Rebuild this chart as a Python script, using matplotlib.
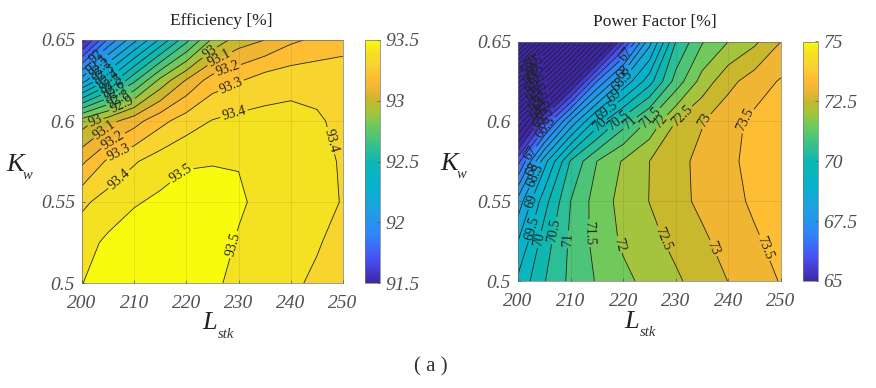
#!/usr/bin/env python3
import numpy as np
import matplotlib
matplotlib.use('Agg')
import matplotlib.pyplot as plt
from matplotlib.cm import ScalarMappable
from matplotlib.colors import LinearSegmentedColormap, Normalize

plt.rcParams['font.family'] = ['Liberation Serif', 'DejaVu Serif']

# values
lstk = [200, 205, 210, 215, 220, 225, 230, 235, 240, 245, 250]
kw = [0.5, 0.525, 0.55, 0.575, 0.6, 0.625, 0.65]

efficiency = [
    [93.498, 93.54, 93.54, 93.54, 93.53, 93.52, 93.47, 93.44, 93.42, 93.38, 93.33],
    [93.46, 93.52, 93.56, 93.57, 93.57, 93.55, 93.49, 93.46, 93.44, 93.41, 93.36],
    [93.38, 93.44, 93.49, 93.52, 93.54, 93.54, 93.515, 93.47, 93.45, 93.43, 93.395],
    [93.18, 93.32, 93.39, 93.45, 93.49, 93.495, 93.495, 93.46, 93.45, 93.43, 93.39],
    [92.95, 93.06, 93.16, 93.27, 93.35, 93.405, 93.43, 93.43, 93.43, 93.41, 93.38],
    [92.15, 92.42, 92.68, 92.93, 93.11, 93.25, 93.29, 93.35, 93.37, 93.375, 93.36],
    [91.55, 91.92, 92.17, 92.42, 92.67, 92.92, 93.05, 93.1, 93.18, 93.22, 93.26],
]
power_factor = [
    [69.6, 70.47, 71.12, 71.54, 71.87, 72.16, 72.42, 72.72, 73.01, 73.27, 73.53],
    [69.0, 70.25, 71.09, 71.67, 72.08, 72.35, 72.63, 72.91, 73.19, 73.44, 73.65],
    [68.2, 69.8, 71.0, 71.72, 72.17, 72.51, 72.84, 73.11, 73.35, 73.58, 73.7],
    [66.3, 68.8, 70.55, 71.5, 72.05, 72.5, 72.85, 73.13, 73.42, 73.62, 73.72],
    [63.6, 66.0, 68.1, 69.7, 70.75, 71.6, 72.5, 72.97, 73.33, 73.62, 73.75],
    [59.8, 62.3, 64.7, 67.0, 68.6, 69.8, 71.2, 72.2, 72.85, 73.25, 73.55],
    [55.5, 58.2, 60.8, 63.5, 65.9, 68.3, 70.5, 71.45, 72.0, 72.4, 73.0],
]

eff_levels = np.round(np.arange(91.5, 93.51, 0.1), 1)
pf_levels = np.arange(55, 74.1, 0.5)
eff_ticks = [91.5, 92, 92.5, 93, 93.5]
pf_ticks = [65, 67.5, 70, 72.5, 75]
lstk_ticks = [200, 210, 220, 230, 240, 250]
kw_ticks = [0.5, 0.55, 0.6, 0.65]

# where the contour labels sit
eff_labels = {
    93.5: [(219.4, .5656), (229.2, .5235)],
    93.4: [(206.7, .5656), (229, .6058), (247.8, .588)],
    93.3: [(206.9, .5815), (228.6, .6213)],
    93.2: [(205.9, .588), (228, .631)],
    93.1: [(204.6, .5935), (226.7, .6366)],
    93.0: [(202.7, .5975), (224.8, .641)],
    92.0: [(202.7, .64)],
    92.1: [(203.6, .6325)],
    92.2: [(204, .6305)],
    92.3: [(204.4, .6285)],
    92.4: [(204.8, .6265)],
    92.5: [(205.2, .6245)],
    92.6: [(205.6, .622)],
    92.7: [(206, .62)],
    92.8: [(206.5, .617)],
    92.9: [(207.2, .614)],
}
pf_labels = {
    73.5: [(242, .604), (247, .521)],
    73.0: [(235.3, .601), (237.4, .521)],
    72.5: [(231, .604), (228, .527)],
    72.0: [(226.7, .601), (218.5, .522)],
    71.5: [(224.5, .604), (213.4, .53)],
    71.0: [(221, .6), (209.5, .526)],
    70.5: [(219, .601), (206.3, .532)],
    70.0: [(215.8, .597), (204, .526)],
    69.5: [(216, .61), (202.8, .533)],
    69.0: [(218, .617), (202.3, .55)],
    68.5: [(219.5, .627), (203.4, .566)],
    68.0: [(220, .631), (202.6, .57)],
    67.0: [(220.5, .642), (202, .581)],
}
for i, v in enumerate(np.arange(59, 66.6, 0.5)):
    pf_labels[float(v)] = [(202.3 + 0.18 * i, .6385 - 0.00277 * i)]

parula = LinearSegmentedColormap.from_list('parula', [
    (0.00, (0.2422, 0.1504, 0.6603)),
    (0.10, (0.2810, 0.3228, 0.9579)),
    (0.20, (0.1786, 0.5289, 0.9682)),
    (0.30, (0.1150, 0.6300, 0.8800)),
    (0.40, (0.0200, 0.7000, 0.8000)),
    (0.50, (0.0500, 0.7200, 0.7000)),
    (0.60, (0.3000, 0.7700, 0.4700)),
    (0.65, (0.4400, 0.7900, 0.3600)),
    (0.70, (0.6400, 0.7700, 0.2400)),
    (0.75, (0.7800, 0.7200, 0.1800)),
    (0.80, (0.9400, 0.7100, 0.2000)),
    (0.85, (0.9950, 0.7450, 0.2000)),
    (0.90, (0.9750, 0.8300, 0.1800)),
    (0.95, (0.9550, 0.8800, 0.1400)),
    (1.00, (0.9763, 0.9831, 0.0538)),
])


def draw(pos, cpos, z, levels, vmin, vmax, cticks, labels, title, title_x):
    ax = fig.add_axes([pos[0] / W, 1 - pos[3] / H, (pos[2] - pos[0]) / W, (pos[3] - pos[1]) / H])
    norm = Normalize(vmin, vmax)
    # each band takes the colour of its lower level
    colors = [parula(norm(l)) for l in levels]
    ax.contourf(lstk, kw, z, levels=levels, colors=colors, extend='max', zorder=1)
    # one contour set per level so a label can only land on its own line
    for lev in levels:
        cs = ax.contour(lstk, kw, z, levels=[lev], colors='#222222', linewidths=0.6, zorder=2)
        if float(lev) in labels:
            ax.clabel(cs, manual=labels[float(lev)], fmt='%g', fontsize=10, inline=True, inline_spacing=2)
    ax.set_xlim(200, 250)
    ax.set_ylim(0.5, 0.65)
    ax.set_xticks(lstk_ticks)
    ax.set_yticks(kw_ticks)
    ax.set_yticklabels(['0.5', '0.55', '0.6', '0.65'])
    ax.grid(True, color='#333333', alpha=0.12, linewidth=0.6, zorder=3)
    ax.set_axisbelow(False)
    ax.tick_params(direction='in', length=2.5, width=0.5, color='#555555', labelcolor='#505050')
    ax.tick_params(axis='x', pad=9)
    ax.tick_params(axis='y', pad=5)
    for t in ax.get_xticklabels() + ax.get_yticklabels():
        t.set_fontsize(14)
        t.set_fontstyle('italic')
    for s in ax.spines.values():
        s.set_linewidth(0.5)
        s.set_color('#777777')
    fig.text(title_x / W, 1 - (pos[1] - 19) / H, title, fontsize=12.5, color='#222222', ha='center', va='center')

    cax = fig.add_axes([cpos[0] / W, 1 - cpos[3] / H, (cpos[2] - cpos[0]) / W, (cpos[3] - cpos[1]) / H])
    cb = fig.colorbar(ScalarMappable(norm=norm, cmap=parula), cax=cax)
    cb.set_ticks(cticks)
    cb.set_ticklabels(['%g' % c for c in cticks])
    cax.tick_params(direction='in', length=2.5, width=0.5, color='#555555', labelcolor='#505050', pad=4)
    for t in cax.get_yticklabels():
        t.set_fontsize(14)
        t.set_fontstyle('italic')
    cb.outline.set_linewidth(0.5)
    cb.outline.set_edgecolor('#777777')


def axis_name(x, y, big, small):
    fig.text(x / W, 1 - y / H, big, fontsize=19, style='italic', color='#222222', ha='center', va='center')
    fig.text((x + 8) / W, 1 - (y + 11) / H, small, fontsize=10.5, style='italic', color='#333333', ha='left', va='center')


W, H = 876, 388
fig = plt.figure(figsize=(W / 100, H / 100), dpi=100)
draw((82, 40, 343, 283), (364.5, 40, 379.5, 283), efficiency, eff_levels, 91.5, 93.5, eff_ticks, eff_labels, 'Efficiency [%]', 221.5)
draw((518, 41.5, 781, 281), (803, 41.5, 818, 281), power_factor, pf_levels, 65, 75, pf_ticks, pf_labels, 'Power Factor [%]', 655)
axis_name(15, 165, 'K', 'w')
axis_name(449, 164, 'K', 'w')
axis_name(210, 323, 'L', 'stk')
axis_name(632, 322, 'L', 'stk')
fig.text(431 / W, 1 - 367 / H, '( a )', fontsize=15, ha='center', va='center', color='#333333')
fig.savefig('out.png', dpi=100)
